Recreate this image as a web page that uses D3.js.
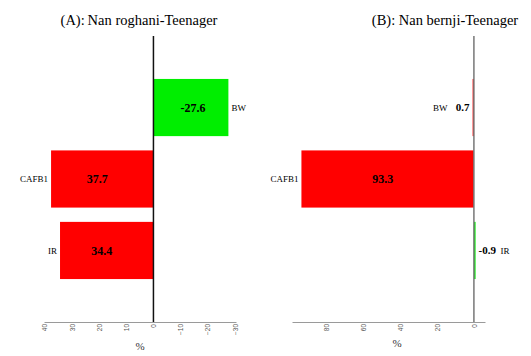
<!DOCTYPE html>
<html><head><meta charset="utf-8">
<script src="https://cdn.jsdelivr.net/npm/d3@7"></script>
<style>body{margin:0;background:#fff}svg{display:block}</style>
</head><body>
<svg id="c" width="531" height="356"></svg>
<script>
const categories = ["BW", "CAFB1", "IR"];
const valuesA = [-27.6, 37.7, 34.4];
const valuesB = [0.7, 93.3, -0.9];
const ticksA = [40, 30, 20, 10, 0, -10, -20, -30];
const ticksB = [80, 60, 40, 20, 0];
const titles = ["(A):\u2009Nan roghani-Teenager", "(B): Nan bernji-Teenager"];

const svg = d3.select("#c");
const serif = "'Liberation Serif','Times New Roman',serif";
const y = d3.scaleBand().domain(categories).range([71.8, 286.2]).paddingInner(0.2).paddingOuter(0.1);

function panel(opts) {
  const g = svg.append("g");
  const x = d3.scaleLinear().domain(opts.domain).range(opts.range);
  const data = categories.map((c, i) => ({c, v: opts.values[i]}));
  const ax = g.append("g").attr("transform", `translate(0,322)`)
    .call(d3.axisBottom(x).tickValues(opts.ticks).tickSize(0).tickPadding(2).tickSizeOuter(0));
  ax.select(".domain").attr("stroke", "#9a9a9a").attr("stroke-width", 1);
  ax.selectAll("text").attr("transform", "rotate(-90)").attr("text-anchor", "end")
    .attr("x", -2).attr("y", 0).attr("dy", "0.32em").attr("fill", "#555")
    .style("font-family", "'Liberation Sans',Arial,sans-serif").style("font-size", "6.5px");
  g.selectAll("rect").data(data).join("rect")
    .attr("x", d => Math.min(x(0), x(d.v)))
    .attr("width", d => Math.abs(x(d.v) - x(0)))
    .attr("y", d => y(d.c)).attr("height", y.bandwidth())
    .attr("fill", d => d.v >= 0 ? "#ff0000" : "#00ee00");
  g.append("line").attr("x1", x(0)).attr("x2", x(0)).attr("y1", 36).attr("y2", 322)
    .attr("stroke", opts.zeroColor).attr("stroke-width", 1.5);
  data.forEach(d => {
    const cy = y(d.c) + y.bandwidth() / 2;
    const end = x(d.v);
    const dir = d.v >= 0 ? -1 : 1;
    const small = Math.abs(end - x(0)) < 30;
    if (small) {
      g.append("text").attr("x", end + dir * 3).attr("y", cy).attr("dy", "0.35em")
        .attr("text-anchor", dir < 0 ? "end" : "start")
        .style("font-family", serif).style("font-size", "11px").style("font-weight", "bold")
        .text(d.v);
      g.append("text").attr("x", end + dir * 25).attr("y", cy).attr("dy", "0.35em")
        .attr("text-anchor", dir < 0 ? "end" : "start")
        .style("font-family", serif).style("font-size", "9px").text(d.c);
    } else {
      g.append("text").attr("x", (end + x(0)) / 2 + (dir < 0 ? -5 : 2)).attr("y", cy).attr("dy", "0.35em")
        .attr("text-anchor", "middle")
        .style("font-family", serif).style("font-size", "12px").style("font-weight", "bold")
        .text(d.v);
      g.append("text").attr("x", end + dir * 3).attr("y", cy).attr("dy", "0.35em")
        .attr("text-anchor", dir < 0 ? "end" : "start")
        .style("font-family", serif).style("font-size", "9px").text(d.c);
    }
  });
  g.append("text").attr("x", opts.titleX).attr("y", 25).attr("text-anchor", "middle")
    .style("font-family", serif).style("font-size", "14.5px").text(opts.title);
  g.append("text").attr("x", opts.pctX).attr("y", opts.pctY).attr("text-anchor", "middle")
    .attr("fill", "#333").style("font-family", serif).style("font-size", "11px").text("%");
}

panel({domain: [40.3, -30.4], range: [44, 236], values: valuesA, ticks: ticksA,
  zeroColor: "#111", title: titles[0], titleX: 139, pctX: 140, pctY: 350});
panel({domain: [98.4, -6], range: [292, 485], values: valuesB, ticks: ticksB,
  zeroColor: "#777", title: titles[1], titleX: 445, pctX: 397, pctY: 347});
</script>
</body></html>
